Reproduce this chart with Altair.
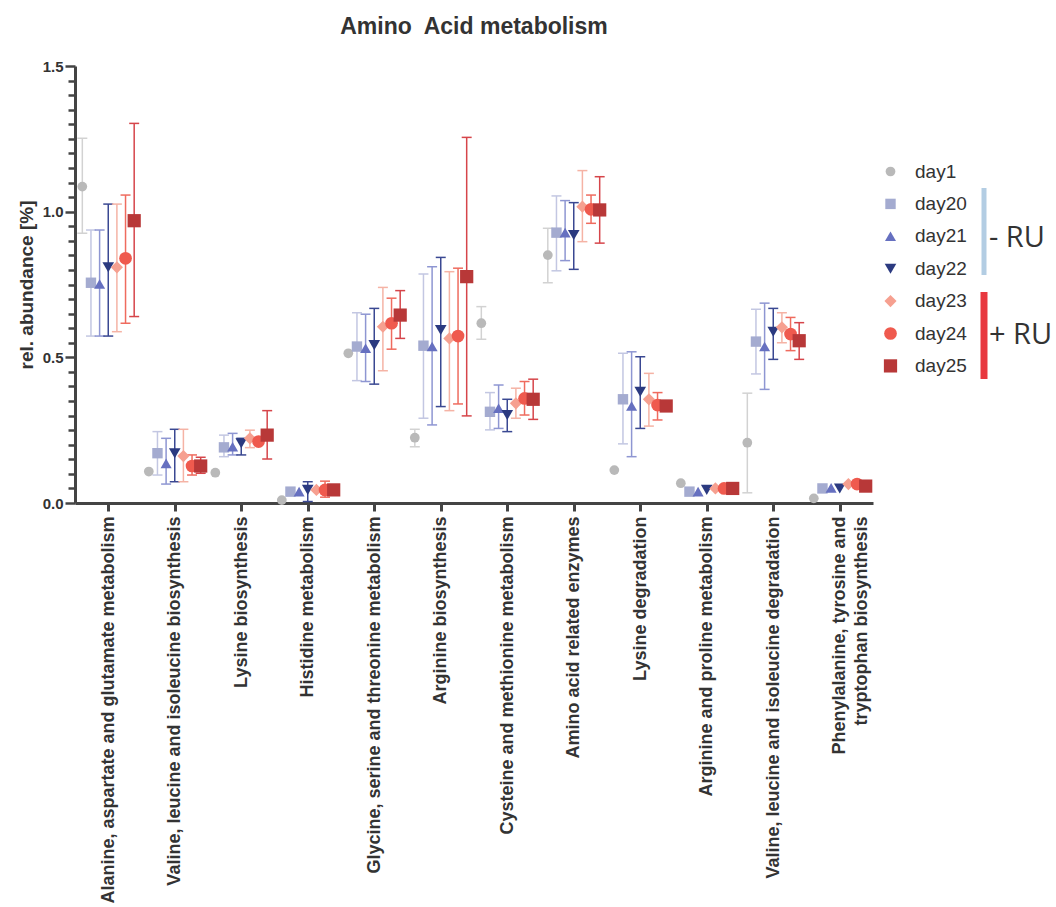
import json
import altair as alt
import pandas as pd

# Pathway categories (x axis), one inner list = one multi-line label
categories = [
    "Alanine, aspartate and glutamate metabolism",
    "Valine, leucine and isoleucine biosynthesis",
    "Lysine biosynthesis",
    "Histidine metabolism",
    "Glycine, serine and threonine metabolism",
    "Arginine biosynthesis",
    "Cysteine and methionine metabolism",
    "Amino acid related enzymes",
    "Lysine degradation",
    "Arginine and proline metabolism",
    "Valine, leucine and isoleucine degradation",
    "Phenylalanine, tyrosine and tryptophan biosynthesis",
]
label_lines = categories[:-1] + [["Phenylalanine, tyrosine and", "tryptophan biosynthesis"]]

days = ["day1", "day20", "day21", "day22", "day23", "day24", "day25"]

# Mean relative abundance [%] per day, in category order
mean_day1 = [1.086, 0.108, 0.104, 0.010, 0.514, 0.224, 0.617, 0.851, 0.113, 0.068, 0.207, 0.016]
mean_day20 = [0.756, 0.171, 0.191, 0.039, 0.537, 0.540, 0.313, 0.928, 0.356, 0.039, 0.554, 0.050]
mean_day21 = [0.752, 0.136, 0.193, 0.039, 0.531, 0.537, 0.325, 0.928, 0.333, 0.039, 0.537, 0.052]
mean_day22 = [0.809, 0.171, 0.205, 0.045, 0.542, 0.594, 0.302, 0.920, 0.382, 0.045, 0.588, 0.050]
mean_day23 = [0.809, 0.161, 0.222, 0.045, 0.605, 0.565, 0.342, 1.017, 0.356, 0.050, 0.603, 0.065]
mean_day24 = [0.840, 0.127, 0.211, 0.045, 0.617, 0.573, 0.359, 1.008, 0.336, 0.050, 0.580, 0.065]
mean_day25 = [0.969, 0.127, 0.233, 0.045, 0.645, 0.777, 0.356, 1.006, 0.333, 0.050, 0.557, 0.058]

# Error bar limits (None = no bar shown)
hi_day1 = [1.252, None, None, None, None, 0.253, 0.674, 0.943, None, None, 0.377, None]
lo_day1 = [0.926, None, None, None, None, 0.193, 0.562, 0.756, None, None, 0.035, None]
hi_day20 = [0.937, 0.245, 0.233, None, 0.653, 0.786, 0.379, 1.054, 0.514, None, 0.665, None]
lo_day20 = [0.573, 0.096, 0.159, None, 0.420, 0.291, 0.251, 0.797, 0.203, None, 0.443, None]
hi_day21 = [0.937, 0.222, 0.239, None, 0.648, 0.811, 0.405, 1.038, 0.519, None, 0.686, None]
lo_day21 = [0.573, 0.065, 0.165, None, 0.417, 0.268, 0.256, 0.832, 0.159, None, 0.390, None]
hi_day22 = [1.026, 0.253, 0.222, 0.073, 0.668, 0.843, 0.356, 1.031, 0.502, None, 0.668, None]
lo_day22 = [0.573, 0.073, 0.165, 0.005, 0.408, 0.331, 0.245, 0.802, 0.256, None, 0.493, None]
hi_day23 = [1.026, 0.253, 0.250, None, 0.740, 0.794, 0.394, 1.141, 0.445, None, 0.653, None]
lo_day23 = [0.588, 0.073, 0.190, None, 0.454, 0.317, 0.291, 0.897, 0.264, None, 0.550, None]
hi_day24 = [1.057, 0.165, None, 0.075, 0.703, 0.806, 0.417, 1.057, 0.379, None, 0.637, None]
lo_day24 = [0.617, 0.096, None, 0.020, 0.528, 0.340, 0.302, 0.960, 0.285, None, 0.523, None]
hi_day25 = [1.303, 0.157, 0.317, None, 0.729, 1.255, 0.425, 1.120, None, None, 0.619, None]
lo_day25 = [0.640, 0.102, 0.151, None, 0.565, 0.299, 0.287, 0.892, None, None, 0.493, None]

means = [mean_day1, mean_day20, mean_day21, mean_day22, mean_day23, mean_day24, mean_day25]
highs = [hi_day1, hi_day20, hi_day21, hi_day22, hi_day23, hi_day24, hi_day25]
lows = [lo_day1, lo_day20, lo_day21, lo_day22, lo_day23, lo_day24, lo_day25]

# Styling per day
marker_colors = ["#b9b9b9", "#a4abd0", "#6670c0", "#2b3a80", "#f6a090", "#ef5a4e", "#b83838"]
bar_colors = ["#d2d2d2", "#c3c7e2", "#8e96d2", "#3a4892", "#f5b3a5", "#ef6b5e", "#d6454a"]
shapes = ["circle", "square", "triangle-up", "triangle-down", "diamond", "circle", "square"]
sizes = [95, 175, 135, 165, 75, 190, 230]

rows = []
for di, d in enumerate(days):
    for ci, c in enumerate(categories):
        rows.append({
            "day": d, "slot": di, "idx": ci, "pathway": c,
            "mean": means[di][ci], "hi": highs[di][ci], "lo": lows[di][ci],
            "barcolor": bar_colors[di],
        })
df = pd.DataFrame(rows)

FONT = "Liberation Sans"
INK = "#333333"
AXIS = "#444444"
MAJOR = "round(datum.value * 100) % 50 == 0"

base = alt.Chart(df).transform_calculate(
    pos="datum.idx + (datum.slot - 3) * 0.13",
    capl="datum.idx + (datum.slot - 3) * 0.13 - 0.075",
    capr="datum.idx + (datum.slot - 3) * 0.13 + 0.075",
)

x_axis = alt.Axis(
    values=list(range(len(categories))),
    labelExpr=json.dumps(label_lines) + "[round(datum.value)]",
    labelAngle=270, labelAlign="right", labelBaseline="middle",
    labelFont=FONT, labelFontSize=18, labelFontWeight="bold", labelColor=INK,
    labelLineHeight=22, labelPadding=5, labelOverlap=False, labelFlush=False,
    labelLimit=1000,
    tickSize=8, tickWidth=3, tickColor=AXIS,
    domainWidth=3, domainColor=AXIS, grid=False, title=None,
)
y_axis = alt.Axis(
    values=[round(i * 0.05, 2) for i in range(31)],
    labelExpr=MAJOR + " ? format(datum.value, '.1f') : ''",
    labelFont=FONT, labelFontSize=15, labelFontWeight="bold", labelColor=INK,
    labelPadding=2, labelOverlap=False, labelFlush=False,
    tickSize={"condition": {"test": MAJOR, "value": 10}, "value": 7},
    tickWidth=2.5, tickColor=AXIS,
    domainWidth=3, domainColor=AXIS, grid=False,
    title="rel. abundance [%]", titleFont=FONT, titleFontSize=19,
    titleFontWeight="bold", titleColor=INK, titlePadding=6,
)
x_scale = alt.Scale(domain=[-0.5, 11.5], nice=False, zero=False)
y_scale = alt.Scale(domain=[0, 1.5], nice=False)

legend = alt.Legend(
    title=None, orient="none", legendX=806, legendY=96,
    labelFont=FONT, labelFontSize=19, labelColor=INK,
    labelOffset=15, rowPadding=12.4, symbolStrokeWidth=0,
)


def xenc(field):
    return alt.X(field, scale=x_scale, axis=x_axis)


def yenc(field):
    return alt.Y(field, scale=y_scale, axis=y_axis)


bar_stroke = alt.Stroke("barcolor:N", scale=None)

whisker = base.mark_rule(strokeWidth=1.5).encode(
    x=xenc("pos:Q"), y=yenc("lo:Q"), y2="hi:Q", stroke=bar_stroke,
)
cap_hi = base.mark_rule(strokeWidth=1.5).encode(
    x=xenc("capl:Q"), x2="capr:Q", y=yenc("hi:Q"), stroke=bar_stroke,
)
cap_lo = base.mark_rule(strokeWidth=1.5).encode(
    x=xenc("capl:Q"), x2="capr:Q", y=yenc("lo:Q"), stroke=bar_stroke,
)
points = base.mark_point(filled=True, opacity=1).encode(
    x=xenc("pos:Q"),
    y=yenc("mean:Q"),
    color=alt.Color("day:N", sort=days, scale=alt.Scale(domain=days, range=marker_colors), legend=legend),
    shape=alt.Shape("day:N", sort=days, scale=alt.Scale(domain=days, range=shapes), legend=legend),
    size=alt.Size("day:N", sort=days, scale=alt.Scale(domain=days, range=sizes), legend=legend),
)

# Group brackets beside the legend
groups = pd.DataFrame({"label": ["- RU", "+ RU"]})
minus_bar = alt.Chart(groups.iloc[[0]]).mark_rule(strokeWidth=5, color="#b3cde3").encode(
    x=alt.value(909), y=alt.value(122), y2=alt.value(209))
plus_bar = alt.Chart(groups.iloc[[1]]).mark_rule(strokeWidth=7, color="#e8383f").encode(
    x=alt.value(909), y=alt.value(226), y2=alt.value(313))
minus_text = alt.Chart(groups.iloc[[0]]).mark_text(
    font="Open Sans", fontSize=29, color=INK, align="left", baseline="middle"
).encode(x=alt.value(914), y=alt.value(172), text="label:N")
plus_text = alt.Chart(groups.iloc[[1]]).mark_text(
    font="Open Sans", fontSize=29, color=INK, align="left", baseline="middle"
).encode(x=alt.value(914), y=alt.value(269), text="label:N")

chart = alt.layer(
    whisker, cap_hi, cap_lo, points, minus_bar, plus_bar, minus_text, plus_text
).properties(
    width=798, height=437,
    autosize="none",
    background="white",
    padding={"left": 75, "top": 66, "right": 183, "bottom": 404},
    title=alt.TitleParams(
        "Amino\u00a0 Acid metabolism", font=FONT, fontSize=23, fontWeight="bold",
        color=INK, anchor="middle", offset=2, baseline="alphabetic",
    ),
).configure_view(stroke="transparent")

chart.save("out.html", embed_options={"renderer": "svg", "actions": False})
